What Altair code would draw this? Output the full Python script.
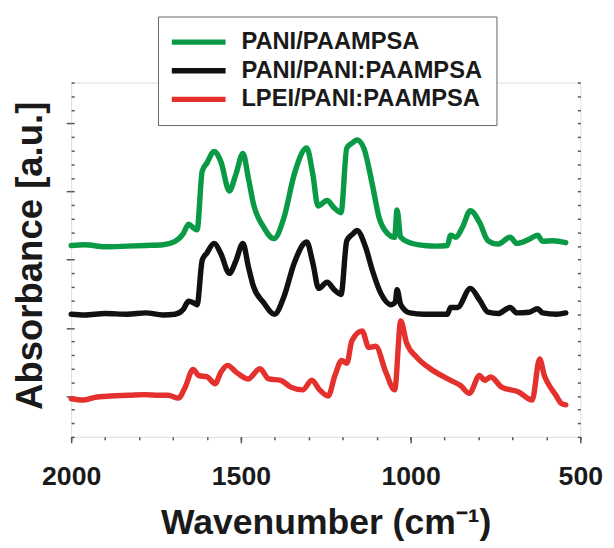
import altair as alt
import pandas as pd

series_names = ["PANI/PAAMPSA", "PANI/PANI:PAAMPSA", "LPEI/PANI:PAAMPSA"]
series_colors = ["#0a9a46", "#111111", "#e4312d"]

green_wn = [2000, 1960, 1900, 1834, 1780, 1730, 1694, 1670, 1654, 1640, 1629, 1614, 1600, 1579, 1559, 1534,
            1515, 1494, 1478, 1463, 1433, 1403, 1373, 1343, 1306, 1288, 1273, 1246, 1225, 1205, 1188, 1170,
            1158, 1138, 1113, 1093, 1067, 1047, 1040, 1029, 1002, 960, 922, 892, 882, 867, 847, 824, 797,
            772, 742, 707, 687, 651, 626, 611, 581, 543]
green_abs = [2.21, 2.22, 2.19, 2.20, 2.21, 2.22, 2.27, 2.38, 2.52, 2.47, 2.44, 3.30, 3.42, 3.59, 3.44, 3.01,
             3.25, 3.56, 3.20, 2.82, 2.48, 2.31, 2.62, 3.25, 3.64, 3.25, 2.79, 2.87, 2.76, 2.69, 3.64, 3.72,
             3.76, 3.64, 3.11, 2.62, 2.38, 2.33, 2.73, 2.33, 2.25, 2.21, 2.20, 2.21, 2.36, 2.33, 2.48, 2.72, 2.55,
             2.28, 2.23, 2.33, 2.24, 2.30, 2.36, 2.27, 2.28, 2.25]

black_wn = [2000, 1960, 1900, 1834, 1780, 1730, 1694, 1670, 1654, 1640, 1629, 1614, 1600, 1579, 1559, 1534,
            1515, 1494, 1478, 1463, 1433, 1401, 1373, 1343, 1306, 1288, 1271, 1246, 1225, 1205, 1188, 1170,
            1158, 1133, 1113, 1088, 1057, 1045, 1040, 1029, 1002, 960, 922, 892, 882, 862, 824, 797, 772,
            742, 707, 687, 651, 626, 611, 570, 543]
black_abs = [1.20, 1.19, 1.21, 1.20, 1.22, 1.19, 1.20, 1.27, 1.39, 1.37, 1.34, 1.99, 2.10, 2.24, 2.09, 1.80,
             1.98, 2.24, 1.90, 1.61, 1.37, 1.20, 1.46, 1.95, 2.26, 1.95, 1.58, 1.67, 1.56, 1.49, 2.28, 2.38,
             2.43, 2.19, 1.85, 1.51, 1.34, 1.38, 1.56, 1.34, 1.22, 1.20, 1.20, 1.20, 1.30, 1.30, 1.58, 1.41, 1.23,
             1.21, 1.30, 1.22, 1.23, 1.28, 1.22, 1.20, 1.22]

red_wn = [2000, 1965, 1930, 1885, 1830, 1784, 1740, 1714, 1684, 1664, 1641, 1624, 1599, 1576, 1559, 1539,
          1514, 1479, 1444, 1418, 1383, 1353, 1318, 1291, 1268, 1243, 1223, 1203, 1188, 1173, 1143, 1123,
          1103, 1073, 1047, 1029, 1012, 982, 942, 882, 852, 827, 797, 782, 764, 732, 682, 642, 620, 606,
          591, 572, 556, 543]
red_abs = [-0.04, -0.06, -0.02, 0.00, 0.01, 0.02, 0.01, 0.01, -0.03, 0.13, 0.39, 0.30, 0.28, 0.18, 0.35, 0.45,
           0.35, 0.25, 0.40, 0.25, 0.23, 0.13, 0.09, 0.23, 0.09, 0.00, 0.30, 0.52, 0.48, 0.81, 0.955, 0.71,
           0.73, 0.35, 0.09, 1.10, 0.78, 0.57, 0.40, 0.23, 0.15, 0.04, 0.30, 0.23, 0.28, 0.13, 0.06, -0.06, 0.545, 0.30,
           0.15, 0.01, -0.11, -0.13]

x_major = [2000, 1500, 1000, 500]
x_minor = [2000, 1900, 1800, 1700, 1600, 1500, 1400, 1300, 1200, 1100, 1000, 900, 800, 700, 600, 500]
y_major = [0, 1, 2, 3, 4]
y_minor = [-0.6, -0.4, -0.2, 0, 0.2, 0.4, 0.6, 0.8, 1, 1.2, 1.4, 1.6, 1.8, 2, 2.2, 2.4, 2.6, 2.8,
           3, 3.2, 3.4, 3.6, 3.8, 4, 4.2, 4.4, 4.6]

rows = []
for name, wns, vals in zip(series_names, [green_wn, black_wn, red_wn], [green_abs, black_abs, red_abs]):
    for w, v in zip(wns, vals):
        rows.append({"series": name, "wn": w, "absorbance": v})
df = pd.DataFrame(rows)

FONT = "Liberation Sans"
TICK = "#555555"

xscale = alt.Scale(domain=[500, 2000], reverse=True, nice=False, zero=False)
yscale = alt.Scale(domain=[-0.6, 4.6], nice=False, zero=False)

base = alt.Chart(df)

lines = base.mark_line(strokeWidth=5.5, strokeCap="round", strokeJoin="round",
                       interpolate="monotone").encode(
    x=alt.X("wn:Q", scale=xscale, axis=alt.Axis(
        orient="bottom", values=x_major, format="d", tickSize=6, tickWidth=1.5, tickColor=TICK,
        labelFont=FONT, labelFontSize=27, labelFontWeight="bold", labelColor="#1a1a1a",
        labelPadding=21, labelFlush=False, labelOverlap=False, domain=False, grid=False,
        title="Wavenumber (cm⁻¹)", titleFont=FONT, titleFontSize=36, titleFontWeight="bold",
        titleColor="#1a1a1a", titleX=258, titleY=98, titleAlign="center", titleBaseline="alphabetic")),
    y=alt.Y("absorbance:Q", scale=yscale, axis=alt.Axis(
        orient="left", values=y_major, labels=False, tickSize=5, tickWidth=1.5, tickColor=TICK,
        domain=False, grid=False,
        title="Absorbance [a.u.]", titleFont=FONT, titleFontSize=37, titleFontWeight="bold",
        titleColor="#1a1a1a", titleX=-41, titleY=175, titleAngle=270, titleAlign="center",
        titleBaseline="middle")),
    color=alt.Color("series:N", scale=alt.Scale(domain=series_names, range=series_colors),
                    legend=alt.Legend(
                        orient="none", legendX=88, legendY=-67, title=None,
                        direction="vertical", fillColor="white", strokeColor="#666666",
                        padding=14, symbolType="stroke", symbolSize=3600, symbolStrokeWidth=5.5,
                        symbolOffset=-8.5, labelOffset=13, clipHeight=24, rowPadding=5,
                        labelFont=FONT, labelFontSize=24, labelFontWeight="bold",
                        labelColor="#1a1a1a", labelLimit=400)),
    detail="series:N",
)

minor = base.mark_point(opacity=0).encode(
    x=alt.X("wn:Q", scale=xscale, axis=alt.Axis(
        orient="bottom", values=x_minor, labels=False, tickSize=3, tickWidth=1.5,
        tickColor=TICK, domain=False, grid=False, title=None)),
    y=alt.Y("absorbance:Q", scale=yscale, axis=alt.Axis(
        orient="left", values=y_minor, labels=False, tickSize=3, tickWidth=1.5, offset=-3,
        tickColor=TICK, domain=False, grid=False, title=None)),
)

right = base.mark_point(opacity=0).encode(
    x=alt.X("wn:Q", scale=xscale, axis=None),
    y=alt.Y("absorbance:Q", scale=yscale, axis=alt.Axis(
        orient="right", values=y_minor, labels=False, tickSize=3, tickWidth=1.5, offset=-3,
        tickColor=TICK, domain=False, grid=False, title=None)),
)

chart = alt.layer(lines, minor, right).resolve_axis(
    x="independent", y="independent"
).properties(
    width=516, height=359,
    padding={"left": 64, "top": 72, "right": 26, "bottom": 109},
    autosize=alt.AutoSizeParams(type="none"),
).configure_view(
    stroke="#666666", strokeWidth=1.5
).configure(background="white")

chart.save("out.html", embed_options={"renderer": "svg", "actions": False})
